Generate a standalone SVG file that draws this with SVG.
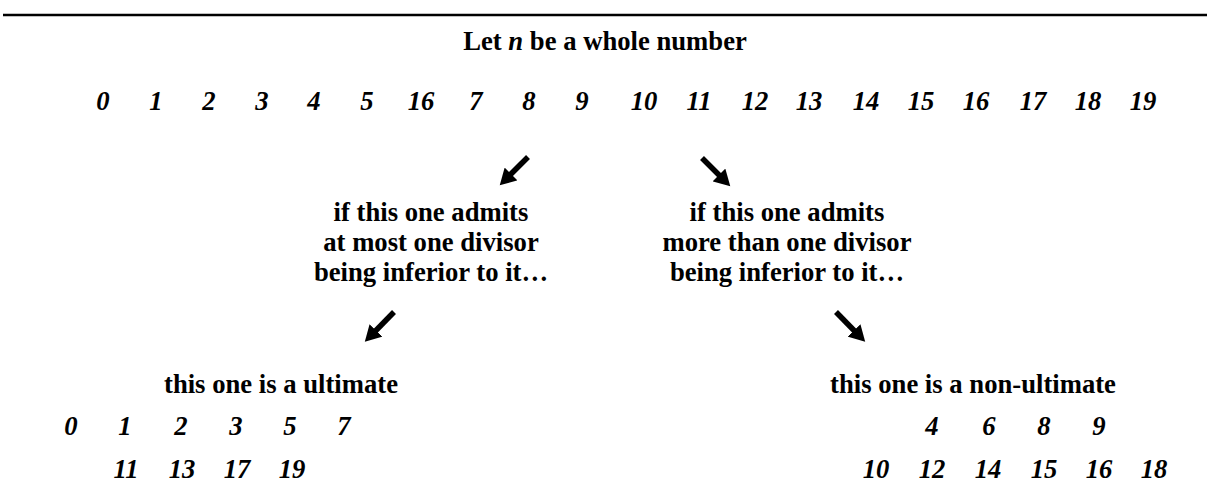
<svg xmlns="http://www.w3.org/2000/svg" width="1210" height="496" viewBox="0 0 1210 496">
<style>
text{font-family:"Liberation Serif","Times New Roman",serif;font-weight:bold;font-size:26.67px;fill:#000;text-anchor:middle}
.n{font-style:italic}
.a{stroke:#000;stroke-width:5.5;fill:none}
</style>
<defs>
<marker id="ah" markerUnits="userSpaceOnUse" markerWidth="17" markerHeight="18" refX="5" refY="9" orient="auto"><path d="M0,0 L16,9 L0,18 z" fill="#000"/></marker>
</defs>
<rect width="1210" height="496" fill="#fff"/>
<line x1="3" y1="15" x2="1207" y2="15" stroke="#000" stroke-width="2.5"/>
<g id="title"><text x="605" y="50">Let <tspan class="n">n</tspan> be a whole number</text></g>
<g id="all">
<text class="n" x="103" y="110">0</text><text class="n" x="156" y="110">1</text><text class="n" x="209" y="110">2</text><text class="n" x="262" y="110">3</text><text class="n" x="314" y="110">4</text><text class="n" x="367" y="110">5</text><text class="n" x="421" y="110">16</text><text class="n" x="476" y="110">7</text><text class="n" x="529" y="110">8</text><text class="n" x="582" y="110">9</text><text class="n" x="644" y="110">10</text><text class="n" x="699" y="110">11</text><text class="n" x="755" y="110">12</text><text class="n" x="809" y="110">13</text><text class="n" x="866" y="110">14</text><text class="n" x="921" y="110">15</text><text class="n" x="976" y="110">16</text><text class="n" x="1033" y="110">17</text><text class="n" x="1088" y="110">18</text><text class="n" x="1143" y="110">19</text>
</g>
<g id="condLeft"><text x="431" y="221">if this one admits</text><text x="431" y="251">at most one divisor</text><text x="431" y="281">being inferior to it…</text></g>
<g id="condRight"><text x="787" y="221">if this one admits</text><text x="787" y="251">more than one divisor</text><text x="787" y="281">being inferior to it…</text></g>
<g id="ultimate"><text x="281" y="393">this one is a ultimate</text>
<text class="n" x="71" y="435">0</text><text class="n" x="125" y="435">1</text><text class="n" x="181" y="435">2</text><text class="n" x="236" y="435">3</text><text class="n" x="290" y="435">5</text><text class="n" x="344" y="435">7</text>
<text class="n" x="126" y="478">11</text><text class="n" x="182" y="478">13</text><text class="n" x="237" y="478">17</text><text class="n" x="292" y="478">19</text></g>
<g id="nonultimate"><text x="973" y="393">this one is a non-ultimate</text>
<text class="n" x="932" y="435">4</text><text class="n" x="989" y="435">6</text><text class="n" x="1044" y="435">8</text><text class="n" x="1099" y="435">9</text>
<text class="n" x="876" y="478">10</text><text class="n" x="932" y="478">12</text><text class="n" x="988" y="478">14</text><text class="n" x="1044" y="478">15</text><text class="n" x="1099" y="478">16</text><text class="n" x="1154" y="478">18</text></g>
<g id="connectors">
<line class="a" x1="528" y1="157" x2="507.5" y2="177.5" marker-end="url(#ah)"/>
<line class="a" x1="702" y1="158" x2="722.5" y2="178.5" marker-end="url(#ah)"/>
<line class="a" x1="394" y1="312" x2="372.5" y2="334" marker-end="url(#ah)"/>
<line class="a" x1="836" y1="312" x2="857.5" y2="334" marker-end="url(#ah)"/>
</g>
</svg>
